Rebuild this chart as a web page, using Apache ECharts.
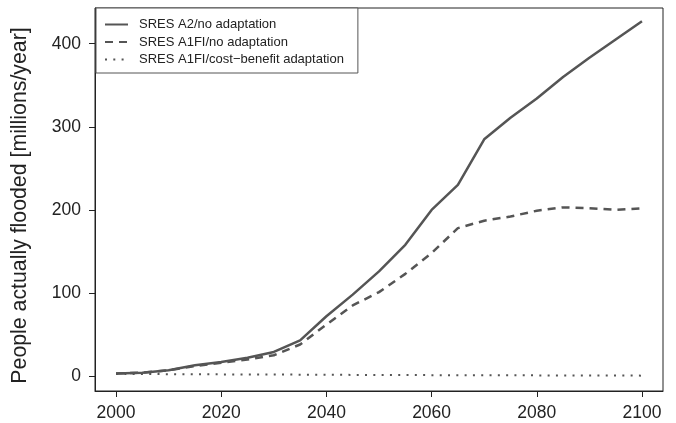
<!DOCTYPE html>
<html>
<head>
<meta charset="utf-8">
<script src="https://cdn.jsdelivr.net/npm/echarts@6/dist/echarts.min.js"></script>
<style>
html,body{margin:0;padding:0;background:#fff;}
#c{width:676px;height:423px;}
</style>
</head>
<body>
<div id="c"></div>
<script>
var years = [2000,2005,2010,2015,2020,2025,2030,2035,2040,2045,2050,2055,2060,2065,2070,2075,2080,2085,2090,2095,2100];
var a2NoAdapt = [3,4,7,13,17,22,29,43,72,98,126,158,200,230,285,311,334,360,383,405,427];
var a1fiNoAdapt = [3,4,7,12,16,20,25,38,62,85,101,123,148,178,187,192,199,203,202,200,202];
var a1fiCostBenefit = [2.5,2.4,2.3,2.2,2,1.9,1.8,1.7,1.5,1.4,1.3,1.2,1.1,1,0.9,0.9,0.8,0.7,0.6,0.6,0.5];
var xTicks = [2000,2020,2040,2060,2080,2100];
var yTicks = [0,100,200,300,400];
var seriesNames = ['SRES A2/no adaptation','SRES A1FI/no adaptation','SRES A1FI/cost\u2212benefit adaptation'];

function pairs(v){ return years.map(function(y,i){ return [y, v[i]]; }); }

var chart = echarts.init(document.getElementById('c'), null, {renderer:'canvas'});
var font = 'Liberation Sans, Arial, Helvetica, sans-serif';
chart.setOption({
  animation:false,
  backgroundColor:'#fff',
  grid:{left:95,right:13,top:8,bottom:32,show:true,borderColor:'#222',borderWidth:1,backgroundColor:'transparent'},
  legend:{
    left:96, top:8, orient:'vertical',
    itemWidth:23, itemHeight:14, itemGap:4.5,
    padding:[10,14,7,8],
    borderColor:'#555', borderWidth:1, backgroundColor:'#fff',
    itemStyle:{opacity:0},
    textStyle:{fontFamily:font,fontSize:13,color:'#222',padding:[0,0,0,6]},
    data:seriesNames
  },
  xAxis:{
    type:'value', min:1996, max:2104,
    axisLine:{show:true,onZero:false,lineStyle:{color:'#222',width:1}},
    axisTick:{show:true,length:6,customValues:xTicks,lineStyle:{color:'#222'}},
    axisLabel:{customValues:xTicks,margin:13,fontFamily:font,fontSize:17.5,color:'#222',
      formatter:function(v){ return String(v); }},
    splitLine:{show:false}
  },
  yAxis:{
    type:'value', min:-18, max:443,
    name:'People actually flooded [millions/year]',
    nameLocation:'middle', nameGap:64,
    nameTextStyle:{fontFamily:font,fontSize:21.3,color:'#222',padding:[0,12,0,0]},
    axisLine:{show:true,onZero:false,lineStyle:{color:'#222',width:1}},
    axisTick:{show:true,length:6,customValues:yTicks,lineStyle:{color:'#222'}},
    axisLabel:{customValues:yTicks,margin:14,fontFamily:font,fontSize:17.5,color:'#222',
      formatter:function(v){ return String(v); }},
    splitLine:{show:false}
  },
  series:[
    {name:seriesNames[0],type:'line',data:pairs(a2NoAdapt),symbol:'none',
     lineStyle:{color:'#555',width:2.5,type:'solid'},itemStyle:{color:'#555'}},
    {name:seriesNames[1],type:'line',data:pairs(a1fiNoAdapt),symbol:'none',
     lineStyle:{color:'#555',width:2.5,type:[8,6]},itemStyle:{color:'#555'}},
    {name:seriesNames[2],type:'line',data:pairs(a1fiCostBenefit),symbol:'none',
     lineStyle:{color:'#555',width:2,type:[2,6.3]},itemStyle:{color:'#555'}}
  ]
});
</script>
</body>
</html>
